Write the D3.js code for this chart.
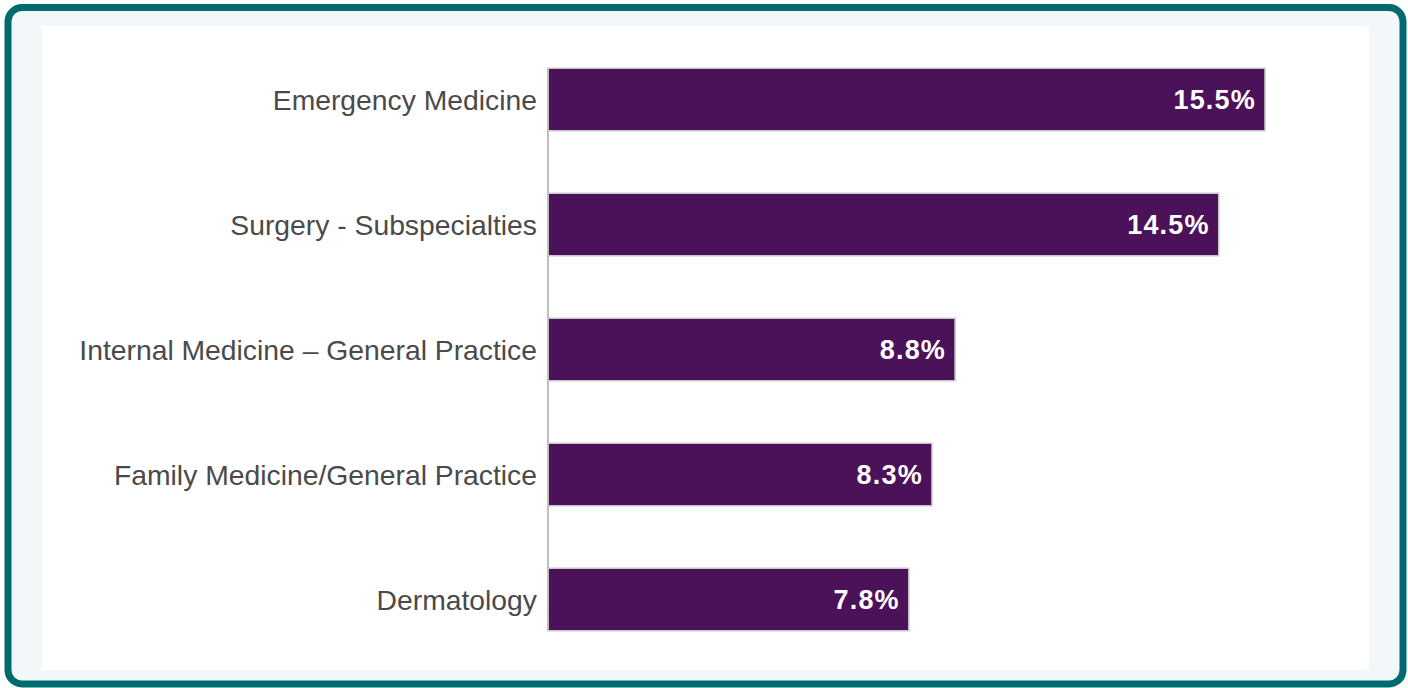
<!DOCTYPE html>
<html><head><meta charset="utf-8">
<script src="https://cdn.jsdelivr.net/npm/d3@7"></script>
<style>html,body{margin:0;padding:0;background:#fff;}svg{display:block;}</style>
</head><body>
<svg id="c" width="1408" height="688"></svg>
<script>
const categories = ["Emergency Medicine","Surgery - Subspecialties","Internal Medicine \u2013 General Practice","Family Medicine/General Practice","Dermatology"];
const values = [15.5, 14.5, 8.8, 8.3, 7.8];
const valueLabels = ["15.5%","14.5%","8.8%","8.3%","7.8%"];

const svg = d3.select("#c");
svg.append("rect").attr("x",8).attr("y",7.5).attr("width",1395).attr("height",676.5)
  .attr("rx",14).attr("fill","#F2F7FA").attr("stroke","#006B6E").attr("stroke-width",7);
svg.append("rect").attr("x",42).attr("y",26).attr("width",1327).attr("height",644).attr("fill","#FFFFFF");

const x = d3.scaleLinear().domain([0, 15.5]).range([548, 1265]);
const y = d3.scaleBand().domain(categories).range([37, 662]).paddingInner(0.5).paddingOuter(0.25);

const g = svg.append("g");
g.selectAll("rect.bar").data(categories).join("rect").attr("class","bar")
  .attr("x", x(0)).attr("y", d => y(d))
  .attr("width", (d,i) => x(values[i]) - x(0)).attr("height", y.bandwidth())
  .attr("fill","#4B1259").attr("stroke","#C8C8C8").attr("stroke-width",1.5);

const axis = d3.axisLeft(y).tickSize(0).tickPadding(11);
const ag = svg.append("g").attr("transform",`translate(${x(0)},0)`).call(axis);
ag.select(".domain").attr("stroke","#BFBFBF").attr("stroke-width",2)
  .attr("d", `M0,${y(categories[0])}V${y(categories[4])+y.bandwidth()}`);
ag.selectAll("text").attr("font-family","'Liberation Sans', Arial, sans-serif")
  .attr("font-size",28.3).attr("fill","#4A4A4A").attr("dy","0.36em");

g.selectAll("text.val").data(categories).join("text").attr("class","val")
  .attr("x",(d,i)=>x(values[i])-9).attr("y",d=>y(d)+y.bandwidth()/2)
  .attr("dy","0.36em").attr("text-anchor","end")
  .attr("font-family","'Liberation Sans', Arial, sans-serif").attr("font-weight","bold")
  .attr("font-size",27).attr("letter-spacing",1.2).attr("fill","#FFFFFF").text((d,i)=>valueLabels[i]);
</script>
</body></html>
